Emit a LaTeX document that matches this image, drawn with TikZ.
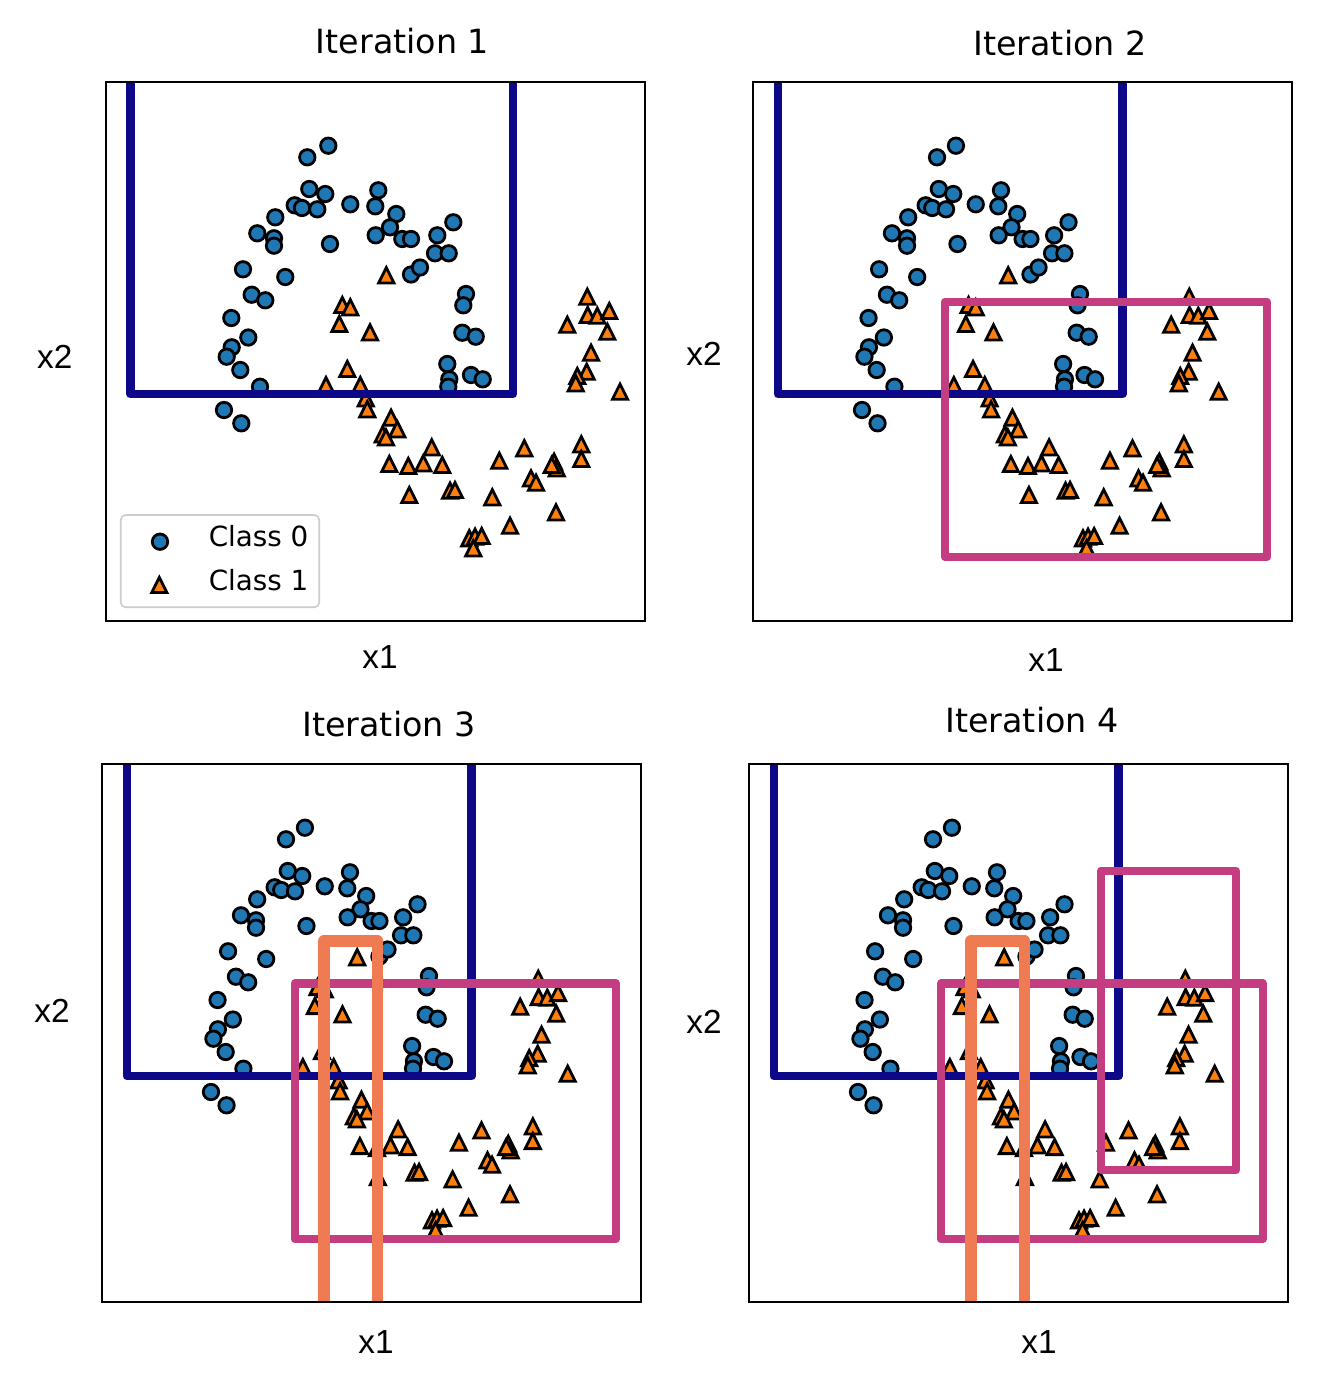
\documentclass[tikz,border=0pt]{standalone}
\usepackage{fontspec}
\setmainfont{DejaVu Sans}
\newfontfamily\arialf{Liberation Sans}
\definecolor{cblue}{HTML}{1F77B4}
\definecolor{corange}{HTML}{FF7F0E}
\definecolor{rblue}{HTML}{0D0887}
\definecolor{rpink}{HTML}{C33D80}
\definecolor{rsalmon}{HTML}{EF7B53}
\newcommand\circlist{328.3/145.7, 307.3/157.3, 309.3/189, 325.3/194, 294.7/205.3, 302/208, 317.3/209.3, 350.3/204.3, 378.3/190.3, 375.3/206.3, 396.3/214, 390/227.3, 375.7/235.3, 402.3/239, 411/239, 275.3/217.3, 257.3/233.3, 274/238.3, 274/245.7, 330/244, 243/269.3, 285.3/277, 411/274.5, 420/267.5, 251.7/294.7, 265.3/300.3, 231.3/318, 248.3/337.5, 231.7/347.3, 226.7/356.7, 240.3/370, 260/386.7, 224/410, 241.3/423.3, 453.3/222.3, 437.3/235.3, 435/253.3, 448.7/253.3, 466/294, 463.3/305.3, 462.3/332.7, 475.7/336.7, 447.3/364, 449.3/379.3, 448.3/386.7, 471/375, 482.7/379.3}
\newcommand\trilist{386.3/275.3, 342.3/305, 350.3/307.3, 339.3/324, 370/332.3, 587.3/296.7, 567.3/324.7, 587.7/315, 597.3/315.7, 609.3/311, 607.3/331.7, 591/352.7, 586.7/371.7, 577.3/376, 575.7/383.3, 620/391.7, 347.3/369, 326/385, 360.3/385, 365.7/398.3, 367.3/409.3, 391/417.7, 397.3/429.3, 382.7/434.3, 386/437.3, 389.3/464, 408.3/466, 423.3/463.3, 409.3/495, 431.7/447.3, 442.3/465, 450/490.7, 455/490, 499.3/460.7, 524.3/448.3, 554/461.7, 556.7/468.3, 551.7/465, 581.3/444.3, 581.3/459, 531/478.3, 536/482.7, 492.3/497.3, 556/512.3, 510/525.7, 469.3/538.3, 475/536.7, 481.7/536, 473.3/548.3}
\newcommand\drawpts[3]{%
  \foreach \px/\py in \circlist {\filldraw[circmark] ({#1*\px+#2},{\py+#3}) circle[radius=2.78pt];}
  \foreach \px/\py in \trilist {\filldraw[trimark] ({#1*\px+#2},{\py+#3}) +(0,-7.6) -- +(-7.6,7.6) -- +(7.6,7.6) -- cycle;}
}
\begin{document}
\begin{tikzpicture}[x=0.36pt,y=-0.36pt,
  circmark/.style={fill=cblue,draw=black,line width=1pt},
  trimark/.style={fill=corange,draw=black,line width=1pt,line join=miter},
  rectline/.style={line width=3pt,line join=round},
  thickrect/.style={line width=4.2pt,line join=round},
  frame/.style={draw=black,line width=0.8pt},
  ttl/.style={anchor=base,inner sep=0pt,font=\fontsize{12}{14}\selectfont},
  axl/.style={anchor=base,inner sep=0pt,font=\arialf\fontsize{12}{14}\selectfont},
  legtxt/.style={anchor=base west,inner sep=0pt,font=\fontsize{10}{12}\selectfont}]
\useasboundingbox (0,0) rectangle (1328,1384);
\fill[white] (0,0) rectangle (1328,1384);

% ---------------- Panel 1
\begin{scope}
  \clip (106,81.7) rectangle (645,620.7);
  \drawpts{1}{0}{0}
  \draw[rectline,rblue] (130.5,394.3) rectangle (513.3,-100);
\end{scope}
\draw[frame] (106,81.7) rectangle (645,620.7);
\draw[draw=black!20,line width=0.6pt,fill=white,fill opacity=0.8,rounded corners=1.8pt] (120.7,515) rectangle (319.3,607.3);
\filldraw[circmark] (160,541.7) circle[radius=2.78pt];
\filldraw[trimark] (159.3,585) +(0,-7.6) -- +(-7.6,7.6) -- +(7.6,7.6) -- cycle;
\node[legtxt] (lc0) at (208.3,546.7) {Class 0};
\node[legtxt] (lc1) at (208.3,590) {Class 1};
\node[ttl] (t1) at (402.5,53.3) {Iteration 1};
\node[axl] (xa1) at (380,668) {x1};
\node[axl] (ya1) at (54.7,368.3) {x2};

% ---------------- Panel 2
\begin{scope}
  \clip (753,81.7) rectangle (1292,620.7);
  \drawpts{0.9008}{660.2}{0}
  \draw[rectline,rblue] (777.8,394.3) rectangle (1122.6,-100);
  \draw[rectline,rpink] (945,301.7) rectangle (1267,557);
\end{scope}
\draw[frame] (753,81.7) rectangle (1292,620.7);
\node[ttl] (t2) at (1060,55) {Iteration 2};
\node[axl] (xa2) at (1046,671) {x1};
\node[axl] (ya2) at (704,365.7) {x2};

% ---------------- Panel 3
\begin{scope}
  \clip (102,764) rectangle (641,1302);
  \drawpts{0.9008}{9.2}{682}
  \draw[rectline,rblue] (126.8,1076.3) rectangle (471.6,600);
  \draw[rectline,rpink] (294.8,983.5) rectangle (616,1239);
  \draw[thickrect,rsalmon] (324.2,940.8) rectangle (377.5,1500);
\end{scope}
\draw[frame] (102,764) rectangle (641,1302);
\node[ttl] (t3) at (389,736) {Iteration 3};
\node[axl] (xa3) at (376,1353) {x1};
\node[axl] (ya3) at (52,1022.7) {x2};

% ---------------- Panel 4
\begin{scope}
  \clip (749,764) rectangle (1288,1302);
  \drawpts{0.9008}{656.2}{682}
  \draw[rectline,rblue] (773.8,1076.3) rectangle (1118.6,600);
  \draw[rectline,rpink] (941,983.5) rectangle (1263,1239);
  \draw[thickrect,rsalmon] (971.2,940.8) rectangle (1024.5,1500);
  \draw[rectline,rpink] (1101,870.7) rectangle (1236,1170);
\end{scope}
\draw[frame] (749,764) rectangle (1288,1302);
\node[ttl] (t4) at (1032,732) {Iteration 4};
\node[axl] (xa4) at (1039,1353) {x1};
\node[axl] (ya4) at (704,1033.7) {x2};
\end{tikzpicture}
\end{document}
